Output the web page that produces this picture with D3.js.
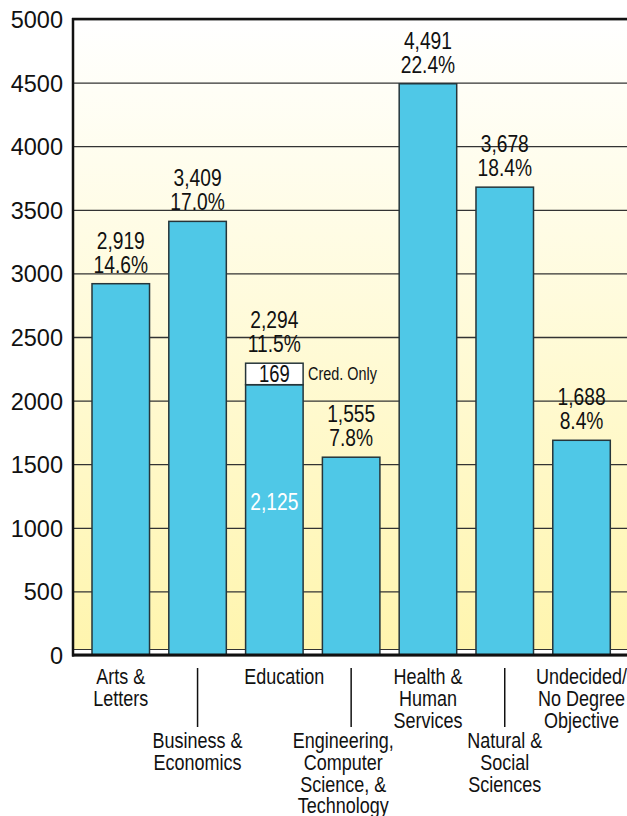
<!DOCTYPE html>
<html>
<head>
<meta charset="utf-8">
<script src="https://cdn.jsdelivr.net/npm/d3@7"></script>
<style>
  body { margin: 0; background: #fff; }
  svg { display: block; }
  text { font-family: "Liberation Sans", Arial, Helvetica, sans-serif; fill: #111; }
</style>
</head>
<body>
<div id="chart"></div>
<script>
// chart data
const categories = [
  ["Arts &", "Letters"],
  ["Business &", "Economics"],
  ["Education"],
  ["Engineering,", "Computer", "Science, &", "Technology"],
  ["Health &", "Human", "Services"],
  ["Natural &", "Social", "Sciences"],
  ["Undecided/", "No Degree", "Objective"]
];
const totals = [2919, 3409, 2294, 1555, 4491, 3678, 1688];
const percents = ["14.6%", "17.0%", "11.5%", "7.8%", "22.4%", "18.4%", "8.4%"];
const credOnly = [0, 0, 169, 0, 0, 0, 0];
const credLabel = "Cred. Only";
const yTicks = [0, 500, 1000, 1500, 2000, 2500, 3000, 3500, 4000, 4500, 5000];

const W = 627, H = 816;
const plot = {left: 72, right: 627, top: 19, bottom: 655};
const squeeze = 0.8; // condensed look
const fmt = d3.format(",");

const svg = d3.select("#chart").append("svg")
    .attr("width", W)
    .attr("height", H);

// narrow text helper: horizontal squeeze around the anchor point
function narrowText(g, px, py, size, anchor) {
    return g.append("text")
        .attr("transform", `translate(${px},${py}) scale(${squeeze},1)`)
        .attr("text-anchor", anchor || "middle")
        .attr("font-size", size);
}

// background gradient
const grad = svg.append("defs").append("linearGradient")
    .attr("id", "bg")
    .attr("x1", 0).attr("y1", 0).attr("x2", 0).attr("y2", 1);
grad.append("stop").attr("offset", "0%").attr("stop-color", "#ffffff");
grad.append("stop").attr("offset", "45%").attr("stop-color", "#fffbdc");
grad.append("stop").attr("offset", "100%").attr("stop-color", "#fff5ae");

const x = d3.scaleBand()
    .domain(d3.range(categories.length))
    .range([plot.left, plot.right])
    .paddingInner(0.251)
    .paddingOuter(0.239)
    .align(0.545);

const y = d3.scaleLinear()
    .domain([0, 5000])
    .range([plot.bottom, plot.top]);

svg.append("rect")
    .attr("x", plot.left).attr("y", plot.top)
    .attr("width", plot.right - plot.left).attr("height", 630)
    .attr("fill", "url(#bg)");
svg.append("line")
    .attr("x1", plot.left).attr("x2", plot.right)
    .attr("y1", 649.5).attr("y2", 649.5)
    .attr("stroke", "#333").attr("stroke-width", 1);

// grid lines
const grid = svg.append("g")
    .attr("transform", `translate(${plot.left},0)`)
    .call(d3.axisLeft(y).tickValues(yTicks).tickSize(-(plot.right - plot.left)).tickFormat(""));
grid.select(".domain").remove();
grid.selectAll("line").attr("stroke", "#333").attr("stroke-width", 1.3);

// y tick labels
const yAxis = svg.append("g")
    .attr("transform", `translate(${plot.left},0)`)
    .call(d3.axisLeft(y).tickValues(yTicks).tickSize(0).tickPadding(9).tickFormat(d3.format("d")));
yAxis.select(".domain").remove();
yAxis.attr("font-family", null).attr("font-size", null);
yAxis.selectAll("text")
    .attr("font-size", 23.5)
    .attr("dy", "0.36em");

// bars
const bars = svg.append("g");
bars.selectAll(".bar")
    .data(totals)
    .enter().append("rect")
    .attr("class", "bar")
    .attr("x", (d, i) => x(i))
    .attr("y", (d, i) => y(d - credOnly[i]))
    .attr("width", x.bandwidth())
    .attr("height", (d, i) => y(0) - y(d - credOnly[i]))
    .attr("fill", "#4fc8e7")
    .attr("stroke", "#26353a")
    .attr("stroke-width", 1.5);

bars.selectAll(".cred")
    .data(totals.map((d, i) => i).filter(i => credOnly[i] > 0))
    .enter().append("rect")
    .attr("class", "cred")
    .attr("x", i => x(i))
    .attr("y", i => y(totals[i]))
    .attr("width", x.bandwidth())
    .attr("height", i => y(totals[i] - credOnly[i]) - y(totals[i]))
    .attr("fill", "#fff")
    .attr("stroke", "#26353a")
    .attr("stroke-width", 1.5);

const labels = svg.append("g");

credOnly.forEach(function (c, i) {
    if (!c) return;
    const cx = x(i) + x.bandwidth() / 2;
    const yTop = y(totals[i]), yMid = y(totals[i] - c);
    narrowText(labels, cx, (yTop + yMid) / 2 + 8, 23).text(fmt(c));
    narrowText(labels, x(i) + x.bandwidth() + 5, (yTop + yMid) / 2 + 6.5, 18, "start").text(credLabel);
    // base value in white inside the bar
    narrowText(labels, cx, 510, 24).style("fill", "#fff").text(fmt(totals[i] - c));
});

// value labels
totals.forEach(function (d, i) {
    const cx = x(i) + x.bandwidth() / 2;
    narrowText(labels, cx, y(d) - 35, 24).text(fmt(d));
    narrowText(labels, cx, y(d) - 11, 24).text(percents[i]);
});

// axis lines
svg.append("line")
    .attr("x1", plot.left).attr("x2", plot.right)
    .attr("y1", plot.top).attr("y2", plot.top)
    .attr("stroke", "#111").attr("stroke-width", 2.5);
svg.append("line")
    .attr("x1", plot.left).attr("x2", plot.right)
    .attr("y1", plot.bottom).attr("y2", plot.bottom)
    .attr("stroke", "#111").attr("stroke-width", 3);
svg.append("line")
    .attr("x1", plot.left + 1).attr("x2", plot.left + 1)
    .attr("y1", plot.top - 1).attr("y2", plot.bottom + 1.5)
    .attr("stroke", "#111").attr("stroke-width", 2.5);

// category labels, alternating heights
const cat = svg.append("g");
categories.forEach(function (lines, i) {
    const cx = x(i) + x.bandwidth() / 2;
    const low = i % 2 === 1;
    if (low) {
        cat.append("line")
            .attr("x1", cx).attr("x2", cx)
            .attr("y1", 668).attr("y2", 727)
            .attr("stroke", "#111").attr("stroke-width", 1.5);
    }
    // a couple of labels are nudged off their bar centre in the original
    let shift = 0;
    if (lines.length > 3) shift = -8;
    if (lines.length === 1) shift = 10;
    const t = narrowText(cat, cx + shift, low ? 748 : 684, 22.5);
    lines.forEach(function (s, k) {
        t.append("tspan")
            .attr("x", 0)
            .attr("y", k * 21.8)
            .text(s);
    });
});
</script>
</body>
</html>
